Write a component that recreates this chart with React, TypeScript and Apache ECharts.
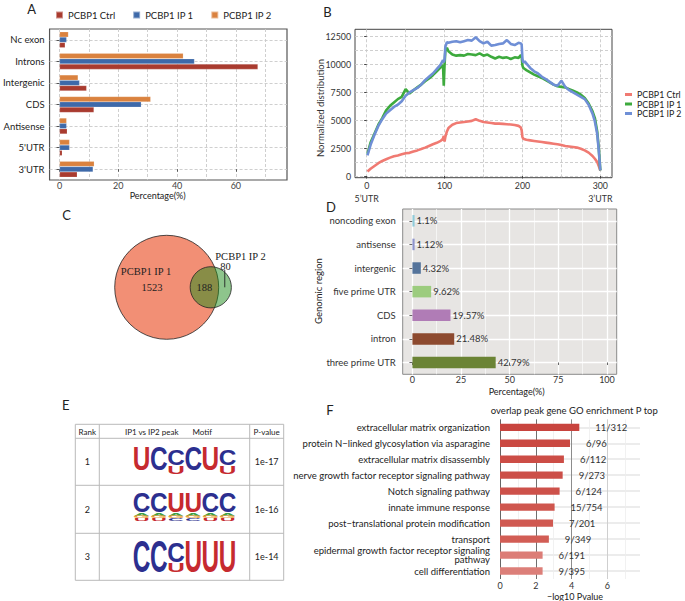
import React, { useEffect, useRef } from 'react';
import * as echarts from 'echarts';

const FONT = 'Lato';
const SERIF = '"Liberation Serif"';

// ---------- Panel A data ----------
const aCategories = ['Nc exon', 'Introns', 'Intergenic', 'CDS', 'Antisense', "5'UTR", "3'UTR"];
const aCtrl = [1.9, 67.5, 9.2, 11.7, 2.6, 0.9, 6.0];
const aIP1 = [2.4, 45.9, 6.8, 27.8, 2.4, 3.4, 11.4];
const aIP2 = [3.0, 42.1, 6.3, 31.0, 2.4, 3.4, 11.8];
const aTicks = [0, 20, 40, 60];
const groupNames = ['PCBP1 Ctrl', 'PCBP1 IP 1', 'PCBP1 IP 2'];

// ---------- Panel B data ----------
const bPos = [1, 5, 10, 15, 20, 25, 30, 35, 40, 45, 50, 55, 60, 65, 70, 75, 80, 85, 90, 95, 98, 99, 100, 101, 103, 105, 110, 115, 120, 125, 130, 135, 140, 145, 150, 155, 160, 165, 170, 175, 180, 185, 190, 195, 198, 199, 200, 201, 203, 205, 210, 215, 220, 225, 230, 235, 240, 245, 250, 255, 260, 265, 270, 275, 280, 285, 290, 293, 296, 298, 300];
const bCtrl = [400, 650, 900, 1150, 1350, 1500, 1650, 1780, 1850, 1950, 2050, 2080, 2200, 2300, 2420, 2550, 2700, 2850, 2980, 3150, 3350, 3600, 3100, 3500, 4000, 4300, 4600, 4750, 4800, 4850, 4900, 4950, 5100, 4950, 4850, 4800, 4750, 4700, 4700, 4680, 4650, 4620, 4580, 4500, 4350, 4100, 3500, 3350, 3300, 3250, 3200, 3150, 3100, 3050, 3000, 2950, 2900, 2850, 2780, 2700, 2650, 2600, 2550, 2450, 2300, 2100, 1800, 1550, 1250, 900, 500];
const bIP1 = [2000, 3000, 3800, 4600, 5200, 5900, 6300, 6600, 6900, 7100, 7800, 7400, 7700, 7950, 8200, 8500, 8750, 9050, 9400, 9750, 9950, 8100, 10000, 11200, 11500, 11200, 10900, 10800, 10850, 10800, 10950, 10900, 10850, 11000, 10800, 10900, 10700, 10550, 10700, 10600, 10650, 10500, 10650, 10600, 10850, 10750, 9900, 9700, 9600, 9500, 9300, 9100, 8950, 8800, 8600, 8400, 8200, 8050, 8000, 7950, 7800, 7650, 7500, 7300, 7000, 6500, 5800, 5200, 4000, 2500, 500];
const bIP2 = [1850, 2800, 3700, 4500, 5100, 5600, 5900, 6200, 6400, 6700, 7200, 7500, 7700, 7900, 8200, 8600, 8900, 9200, 9600, 10000, 10400, 10200, 10450, 11600, 12000, 11950, 12050, 12100, 12000, 12100, 12200, 12150, 12450, 12100, 11900, 12050, 11700, 11750, 11850, 11900, 12200, 11850, 11750, 11950, 11900, 11800, 10500, 10200, 10300, 10100, 9700, 9400, 9200, 8900, 8700, 8450, 8200, 8100, 8550, 8000, 7700, 7500, 7300, 7100, 6900, 6400, 5600, 4900, 3800, 2300, 500];
const bXTicks = [0, 100, 200, 300];
const bYTicks = [0, 2500, 5000, 7500, 10000, 12500];

// ---------- Panel C data ----------
const vennNames = ['PCBP1 IP 1', 'PCBP1 IP 2'];
const vennOnly1 = 1523;
const vennBoth = 188;
const vennOnly2 = 80;

// ---------- Panel D data ----------
const dCategories = ['noncoding exon', 'antisense', 'intergenic', 'five prime UTR', 'CDS', 'intron', 'three prime UTR'];
const dValues = [1.1, 1.12, 4.32, 9.62, 19.57, 21.48, 42.79];
const dTicks = [0, 25, 50, 75, 100];

// ---------- Panel E data ----------
const eRanks = ['1', '2', '3'];
const eMotifs = ['UCCCUC', 'CCUUCC', 'CCCUUU'];
const ePValues = ['1e-17', '1e-16', '1e-14'];

// ---------- Panel F data ----------
const fTerms = [
  'extracellular matrix organization',
  'protein N\u2212linked glycosylation via asparagine',
  'extracellular matrix disassembly',
  'nerve growth factor receptor signaling pathway',
  'Notch signaling pathway',
  'innate immune response',
  'post\u2212translational protein modification',
  'transport',
  'epidermal growth factor receptor signaling\npathway',
  'cell differentiation',
];
const fValues = [4.43, 3.91, 3.57, 3.5, 3.33, 3.05, 2.96, 2.73, 2.38, 2.38];
const fCounts = ['11/312', '6/96', '6/112', '9/273', '6/124', '15/754', '7/201', '9/349', '6/191', '9/395'];
const fTicks = [0, 2, 4, 6];

// ---------- styles ----------
const aColors = ['#a93b2f', '#3e69a9', '#da823f'];
const bColors = ['#f07a72', '#3daa3d', '#6f8fd6'];
const dColors = ['#8fcbd9', '#8e93cc', '#55749b', '#9ccc7e', '#b07cb6', '#8d4a2f', '#6b8435'];
const fColors = ['#c8443e', '#ca4942', '#cc4d46', '#cc4f48', '#cd514a', '#cf564e', '#d05951', '#d25d55', '#dc7d77', '#dc7f79'];
const logoColors: Record<string, string> = { U: '#c62a2f', C: '#2c2f8f', A: '#41a044', G: '#eaa13a' };

const lensArea = (r1: number, r2: number, d: number) => {
  if (d >= r1 + r2) return 0;
  if (d <= Math.abs(r1 - r2)) return Math.PI * Math.min(r1, r2) ** 2;
  const a = r1 * r1 * Math.acos((d * d + r1 * r1 - r2 * r2) / (2 * d * r1));
  const b = r2 * r2 * Math.acos((d * d + r2 * r2 - r1 * r1) / (2 * d * r2));
  const c = 0.5 * Math.sqrt((-d + r1 + r2) * (d + r1 - r2) * (d - r1 + r2) * (d + r1 + r2));
  return a + b - c;
};
const solveDistance = (r1: number, r2: number, target: number) => {
  let lo = Math.abs(r1 - r2);
  let hi = r1 + r2;
  for (let i = 0; i < 60; i++) {
    const mid = (lo + hi) / 2;
    if (lensArea(r1, r2, mid) > target) lo = mid;
    else hi = mid;
  }
  return (lo + hi) / 2;
};

const txt = (x: number, y: number, text: string, o: any = {}) => ({
  type: 'text',
  x,
  y,
  z: 100,
  rotation: o.rotation || 0,
  silent: true,
  style: {
    text,
    fill: o.color || '#222',
    font: `${o.weight || 'normal'} ${o.size || 9.5}px ${o.family || FONT}`,
    align: o.align || 'center',
    verticalAlign: 'middle',
    textAlign: o.align || 'center',
    textVerticalAlign: 'middle',
  },
});

const letterEl = (ch: string, cx: number, top: number, bottom: number, w: number) => {
  const F = 20;
  const capH = 0.716 * F;
  const ink = 0.64 * F;
  return {
    type: 'text',
    x: cx,
    y: (top + bottom) / 2,
    z: 100,
    scaleX: w / ink,
    scaleY: (bottom - top) / capH,
    silent: true,
    style: {
      text: ch,
      fill: logoColors[ch] || '#333',
      font: `bold ${F}px "Liberation Sans"`,
      align: 'center',
      verticalAlign: 'middle',
      textAlign: 'center',
      textVerticalAlign: 'middle',
    },
  };
};

const lineEl = (x1: number, y1: number, x2: number, y2: number, color = '#b9b9b9', w = 1) => ({
  type: 'line',
  silent: true,
  z: 100,
  shape: { x1, y1, x2, y2 },
  style: { stroke: color, lineWidth: w },
});

const hiddenAxis = (gridIndex: number, min: number, max: number, extra: any = {}) => ({
  type: 'value',
  gridIndex,
  min,
  max,
  axisLine: { show: false },
  axisTick: { show: false },
  axisLabel: { show: false },
  splitLine: { show: false },
  ...extra,
});

const linesAxis = (gridIndex: number, min: number, max: number, splitNumber: number, lineStyle: any, minMax = false) => ({
  type: 'value',
  gridIndex,
  min,
  max,
  splitNumber,
  axisLine: { show: false },
  axisTick: { show: false },
  axisLabel: { show: false },
  splitLine: { show: true, lineStyle, showMinLine: minMax, showMaxLine: false },
});

const dashed = { type: [3, 2], color: '#c9c9c9', width: 0.9 };

export default function App() {
  const ref = useRef<HTMLDivElement>(null);

  useEffect(() => {
    if (!ref.current) return;
    const chart = echarts.init(ref.current, null, { renderer: 'svg' });

    // ----- Venn layout (area proportional) -----
    const r1 = Math.sqrt((vennOnly1 + vennBoth) / Math.PI);
    const r2 = Math.sqrt((vennOnly2 + vennBoth) / Math.PI);
    const dist = solveDistance(r1, r2, vennBoth);
    const K = 2.228; // px per unit
    const cA = [166.7, 287.3];
    const gC = { left: 100, top: 225, width: 170, height: 130 };
    const cxMin = -(cA[0] - gC.left) / K;
    const cxMax = cxMin + gC.width / K;
    const cyMax = (cA[1] - gC.top) / K;
    const cyMin = cyMax - gC.height / K;
    const bx = cA[0] + dist * K;
    const rApx = r1 * K;
    const rBpx = r2 * K;

    // ----- Panel E graphics -----
    const tbl = { l: 75.3, r: 283.7, t: 424.3, b: 580.3 };
    const rowLines = [438.3, 485.3, 533.3];
    const colLines = [99.3, 249.7];
    const eGraphics: any[] = [
      { type: 'rect', silent: true, z: 100, shape: { x: tbl.l, y: tbl.t, width: tbl.r - tbl.l, height: tbl.b - tbl.t }, style: { fill: 'none', stroke: '#b9b9b9', lineWidth: 1 } },
      ...rowLines.map((y) => lineEl(tbl.l, y, tbl.r, y)),
      ...colLines.map((x) => lineEl(x, tbl.t, x, tbl.b)),
      txt(87.3, 431.5, 'Rank', { size: 8 }),
      txt(151.7, 431.5, 'IP1 vs IP2 peak', { size: 8 }),
      txt(202.3, 431.5, 'Motif', { size: 8 }),
      txt(266.7, 431.5, 'P-value', { size: 8 }),
    ];
    const rowsY = [461.8, 509.3, 556.8];
    eRanks.forEach((r, i) => {
      eGraphics.push(txt(87.3, rowsY[i], r, { size: 9 }));
      eGraphics.push(txt(266.7, rowsY[i], ePValues[i], { size: 9 }));
    });
    const logoLeft = 133;
    const colW = 17.2;
    const inkW = 15.6;
    const colX = (i: number) => logoLeft + colW * (i + 0.5);
    eMotifs[0].split('').forEach((ch, i) => {
      if (i === 2 || i === 5) {
        eGraphics.push(letterEl(ch, colX(i), 449.5, 465.5, inkW));
        eGraphics.push(letterEl('U', colX(i), 466.5, 473.8, inkW));
      } else {
        eGraphics.push(letterEl(ch, colX(i), 446.8, 470.5, inkW));
      }
    });
    eMotifs[1].split('').forEach((ch, i) => {
      eGraphics.push(letterEl(ch, colX(i), 492.5, 512.3, inkW));
      eGraphics.push(letterEl('A', colX(i), 513.0, 515.6, inkW * 0.9));
      eGraphics.push(letterEl('G', colX(i), 516.0, 518.4, inkW * 0.9));
      eGraphics.push(letterEl(ch === 'C' ? 'U' : 'C', colX(i), 518.8, 520.8, inkW * 0.9));
    });
    eMotifs[2].split('').forEach((ch, i) => {
      if (i === 2) {
        eGraphics.push(letterEl(ch, colX(i), 542, 562, inkW));
        eGraphics.push(letterEl('U', colX(i), 563, 572.5, inkW));
      } else {
        eGraphics.push(letterEl(ch, colX(i), 540.3, 572.3, inkW));
      }
    });

    const graphics: any[] = [
      txt(31.7, 8.5, 'A', { size: 13 }),
      txt(327.5, 12, 'B', { size: 13 }),
      txt(66.7, 214.7, 'C', { size: 13 }),
      txt(331, 206.5, 'D', { size: 13 }),
      txt(65.8, 405, 'E', { size: 13 }),
      txt(330, 409.7, 'F', { size: 13 }),
      txt(157.7, 195.5, 'Percentage(%)', { size: 9 }),
      txt(320, 108, 'Normalized distribution', { size: 9.5, rotation: Math.PI / 2, color: '#333' }),
      txt(516.7, 391, 'Percentage(%)', { size: 9 }),
      txt(318, 291, 'Genomic region', { size: 9.5, rotation: Math.PI / 2 }),
      txt(574.3, 410, 'overlap peak gene GO enrichment P top', { size: 9.5 }),
      txt(575, 596, '\u2212log10 Pvalue', { size: 9 }),
      // Venn labels
      txt(cA[0] - 20.7, cA[1] - 15.6, vennNames[0], { size: 10.5, family: SERIF }),
      txt(cA[0] - 14.7, cA[1] + 0.4, String(vennOnly1), { size: 10.5, family: SERIF }),
      txt((cA[0] + rApx + bx - rBpx) / 2, cA[1] + 0.4, String(vennBoth), { size: 10.5, family: SERIF }),
      txt(bx + 29.7, cA[1] - 31.3, vennNames[1], { size: 10.5, family: SERIF }),
      txt(bx + 14.7, cA[1] - 20.6, String(vennOnly2), { size: 10.5, family: SERIF }),
      lineEl(bx + 14, cA[1] - 17.3, bx + 14, cA[1], '#222', 0.9),
      ...eGraphics,
    ];

    const axisText = { fontFamily: FONT, color: '#333' };

    const option: any = {
      animation: false,
      backgroundColor: '#fff',
      textStyle: { fontFamily: FONT },
      legend: [
        {
          data: groupNames,
          left: 55,
          top: 10,
          itemWidth: 7,
          itemHeight: 7,
          itemGap: 17,
          icon: 'rect',
          padding: 0,
          textStyle: { fontSize: 9.5, color: '#222', fontFamily: FONT },
        },
        {
          data: groupNames.map((n) => 'B ' + n),
          formatter: (n: string) => n.replace('B ', ''),
          orient: 'vertical',
          left: 625,
          top: 90,
          itemWidth: 7,
          itemHeight: 3,
          itemGap: 0.5,
          icon: 'rect',
          padding: 0,
          textStyle: { fontSize: 8.8, color: '#222', fontFamily: FONT },
        },
      ],
      grid: [
        { left: 49, top: 29, width: 238, height: 151, show: true, borderColor: '#555', borderWidth: 1.2, backgroundColor: 'transparent' },
        { left: 355, top: 29.3, width: 257, height: 148.4, show: true, borderColor: '#444', borderWidth: 1, backgroundColor: 'transparent' },
        { left: gC.left, top: gC.top, width: gC.width, height: gC.height, show: false },
        { left: 402.7, top: 209, width: 214, height: 165.3, show: true, borderColor: '#8a8a8a', borderWidth: 1, backgroundColor: '#e7e5e3' },
        { left: 500, top: 419.3, width: 140, height: 159.7, show: false },
      ],
      xAxis: [
        {
          type: 'value', gridIndex: 0, min: -3.4, max: 77.4,
          axisLine: { show: false },
          axisTick: { show: true, length: 2.5, customValues: aTicks, lineStyle: { color: '#555' } },
          axisLabel: { customValues: aTicks, fontSize: 9, margin: 0.5, ...axisText, color: '#444' },
          splitLine: { show: false },
        },
        linesAxis(0, -3.4, 77.4, 8, dashed),
        {
          type: 'value', gridIndex: 1, min: -15, max: 315,
          axisLine: { show: false },
          axisTick: { show: true, length: 2.5, customValues: bXTicks, lineStyle: { color: '#444' } },
          axisLabel: {
            customValues: bXTicks, fontSize: 8.8, margin: 2, lineHeight: 12.5, ...axisText,
            formatter: (v: number) => (v === 0 ? '0\n5\u2019UTR' : v === 300 ? '300\n3\u2019UTR' : String(v)),
          },
          splitLine: { show: false },
        },
        linesAxis(1, -15, 315, 7, dashed),
        hiddenAxis(2, cxMin, cxMax),
        {
          type: 'value', gridIndex: 3, min: -5, max: 105,
          axisLine: { show: false },
          axisTick: { show: true, length: 2.5, customValues: dTicks, lineStyle: { color: '#666' } },
          axisLabel: { customValues: dTicks, fontSize: 9, margin: 0.5, ...axisText },
          splitLine: { show: false },
        },
        linesAxis(3, -0.2, 4.2, 4, { color: '#ffffff', width: 1.3 }),
        linesAxis(3, -0.4, 8.4, 8, { color: '#ffffff', width: 0.6 }),
        {
          type: 'value', gridIndex: 4, min: 0, max: 7.82,
          axisLine: { show: false },
          axisTick: { show: false },
          axisLabel: { customValues: fTicks, fontSize: 9, margin: 2, ...axisText },
          splitLine: { show: false },
        },
        linesAxis(4, 0, 3.91, 4, { color: ['#666666', '#6f6f6f', '#8c8c8c', '#cfcfcf'], width: 1 }, true),
        linesAxis(4, -0.5, 3.41, 4, { color: '#ededed', width: 0.8 }),
      ],
      yAxis: [
        {
          type: 'category', gridIndex: 0, data: aCategories, inverse: true,
          axisLine: { show: false },
          axisTick: { show: true, alignWithLabel: true, length: 3, lineStyle: { color: '#555' } },
          axisLabel: { fontSize: 9.5, margin: 5, ...axisText, color: '#222' },
          splitLine: { show: false },
        },
        linesAxis(0, -0.5, 6.5, 7, dashed),
        {
          type: 'value', gridIndex: 1, min: -150, max: 13165,
          axisLine: { show: false },
          axisTick: { show: true, length: 2.5, customValues: bYTicks, lineStyle: { color: '#444' } },
          axisLabel: { customValues: bYTicks, fontSize: 8.8, margin: 4, ...axisText, formatter: (v: number) => String(v) },
          splitLine: { show: false },
        },
        linesAxis(1, -0.12, 10.532, 10, dashed),
        hiddenAxis(2, cyMin, cyMax),
        {
          type: 'category', gridIndex: 3, data: dCategories, inverse: true,
          axisLine: { show: false },
          axisTick: { show: true, alignWithLabel: true, length: 3, lineStyle: { color: '#666' } },
          axisLabel: { fontSize: 9.5, margin: 7, ...axisText },
          splitLine: { show: false },
        },
        linesAxis(3, -0.5, 6.5, 7, { color: '#ffffff', width: 1.3 }),
        {
          type: 'category', gridIndex: 4, data: fTerms, inverse: true,
          axisLine: { show: false },
          axisTick: { show: false },
          axisLabel: { fontSize: 9.5, margin: 10, lineHeight: 9.5, ...axisText, color: '#222' },
          splitLine: { show: false },
        },
        linesAxis(4, -0.5, 9.5, 10, { color: '#e6e6e6', width: 1.6 }),
      ],
      series: [
        ...[
          { name: groupNames[2], data: aIP2, color: aColors[2] },
          { name: groupNames[1], data: aIP1, color: aColors[1] },
          { name: groupNames[0], data: aCtrl, color: aColors[0] },
        ].map((s) => ({
          type: 'bar',
          name: s.name,
          xAxisIndex: 0,
          yAxisIndex: 0,
          data: s.data,
          barGap: '0%',
          barCategoryGap: '26%',
          itemStyle: { color: s.color, borderColor: 'rgba(255,255,255,0.45)', borderWidth: 0.4 },
          silent: true,
        })),
        ...[bCtrl, bIP1, bIP2].map((vals, k) => ({
          type: 'line',
          name: 'B ' + groupNames[k],
          xAxisIndex: 2,
          yAxisIndex: 2,
          data: bPos.map((x, i) => [x, vals[i]]),
          showSymbol: false,
          symbol: 'none',
          color: bColors[k],
          lineStyle: { width: 2.6, color: bColors[k] },
          silent: true,
        })),
        {
          type: 'scatter',
          name: 'venn1',
          xAxisIndex: 4,
          yAxisIndex: 4,
          data: [[0, 0]],
          symbolSize: 2 * rApx,
          itemStyle: { color: '#f28f75', borderColor: '#222', borderWidth: 0.8, opacity: 1 },
          silent: true,
        },
        {
          type: 'scatter',
          name: 'venn2',
          xAxisIndex: 4,
          yAxisIndex: 4,
          data: [[dist, 0]],
          symbolSize: 2 * rBpx,
          itemStyle: { color: 'rgba(30,140,25,0.5)', borderColor: '#222', borderWidth: 0.8, opacity: 1 },
          silent: true,
        },
        {
          type: 'bar',
          name: 'regions',
          xAxisIndex: 5,
          yAxisIndex: 5,
          barWidth: 11.5,
          data: dValues.map((v, i) => ({ value: v, itemStyle: { color: dColors[i] } })),
          label: {
            show: true,
            position: 'right',
            distance: 2,
            formatter: (p: any) => `${p.value}%`,
            fontSize: 9.5,
            color: '#333',
            fontFamily: FONT,
          },
          silent: true,
        },
        {
          type: 'bar',
          name: 'go',
          xAxisIndex: 8,
          yAxisIndex: 7,
          barWidth: 7.3,
          data: fValues.map((v, i) => ({ value: v, itemStyle: { color: fColors[i] } })),
          label: {
            show: true,
            position: 'right',
            distance: 16,
            formatter: (p: any) => fCounts[p.dataIndex],
            fontSize: 9.5,
            color: '#333',
            fontFamily: FONT,
          },
          silent: true,
        },
      ],
      graphic: graphics,
    };

    chart.setOption(option);
    return () => chart.dispose();
  }, []);

  return (
    <div
      ref={ref}
      style={{ position: 'fixed', left: 0, top: 0, width: 685, height: 601, background: '#fff' }}
    />
  );
}
